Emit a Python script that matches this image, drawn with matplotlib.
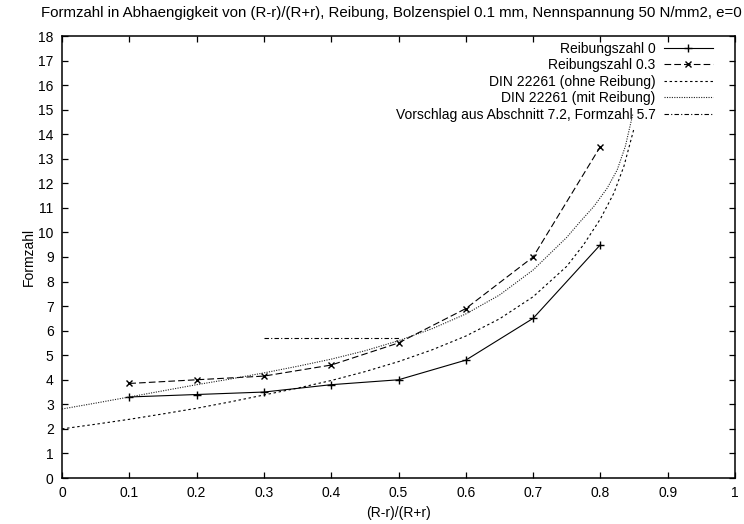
import matplotlib
matplotlib.use("Agg")
import matplotlib.pyplot as plt

plt.rcParams['font.family'] = ['Liberation Sans', 'DejaVu Sans']
plt.rcParams['font.size'] = 10

# Measured shape factors
x_mess = [0.1, 0.2, 0.3, 0.4, 0.5, 0.6, 0.7, 0.8]
formzahl_mu0 = [3.3, 3.4, 3.5, 3.8, 4.0, 4.8, 6.5, 9.5]
formzahl_mu03 = [3.85, 4.0, 4.15, 4.6, 5.5, 6.9, 9.0, 13.5]

# DIN 22261 reference curves
x_din_ohne = [0.0, 0.05, 0.1, 0.15, 0.2, 0.25, 0.3, 0.35, 0.4, 0.45, 0.5,
              0.55, 0.6, 0.65, 0.7, 0.75, 0.775, 0.8, 0.82, 0.835, 0.85]
din_ohne = [2.00, 2.19, 2.39, 2.61, 2.84, 3.10, 3.38, 3.66, 3.97, 4.33, 4.74,
            5.22, 5.78, 6.48, 7.38, 8.62, 9.50, 10.55, 11.60, 12.70, 14.24]
x_din_mit = [0.0, 0.05, 0.1, 0.15, 0.2, 0.25, 0.3, 0.35, 0.4, 0.45, 0.5,
             0.55, 0.6, 0.65, 0.7, 0.75, 0.77, 0.79, 0.81, 0.825, 0.837, 0.848]
din_mit = [2.81, 3.05, 3.30, 3.55, 3.80, 4.03, 4.28, 4.55, 4.84, 5.18, 5.59,
           6.08, 6.68, 7.45, 8.47, 9.80, 10.44, 11.05, 11.80, 12.55, 13.50, 14.80]

# Proposal from section 7.2
x_vorschlag = [0.3, 0.5]
formzahl_vorschlag = [5.7, 5.7]

x_ticks = [0, 0.1, 0.2, 0.3, 0.4, 0.5, 0.6, 0.7, 0.8, 0.9, 1]
x_ticklabels = ['0', '0.1', '0.2', '0.3', '0.4', '0.5', '0.6', '0.7', '0.8', '0.9', '1']
y_ticks = list(range(0, 19))

fig = plt.figure(figsize=(7.44, 5.24), dpi=100)
ax = fig.add_axes([62 / 744, 46 / 524, 673 / 744, 442 / 524])

lw = 0.8
ax.plot(x_mess, formzahl_mu0, color='black', lw=lw, marker='+', ms=6,
        mew=1.0, label='Reibungszahl 0')
ax.plot(x_mess, formzahl_mu03, color='black', lw=lw, marker='x', ms=5,
        mew=1.0, dashes=(6.0, 2.8), label='Reibungszahl 0.3')
ax.plot(x_din_ohne, din_ohne, color='black', lw=lw, dashes=(2.2, 2.4),
        label='DIN 22261 (ohne Reibung)')
ax.plot(x_din_mit, din_mit, color='#222222', lw=lw, dashes=(1.0, 1.2),
        label='DIN 22261 (mit Reibung)')
ax.plot(x_vorschlag, formzahl_vorschlag, color='black', lw=lw,
        dashes=(4.0, 2.0, 1.0, 2.0),
        label='Vorschlag aus Abschnitt 7.2, Formzahl 5.7')

ax.set_xlim(0, 1)
ax.set_ylim(0, 18)
ax.set_xticks(x_ticks)
ax.set_xticklabels(x_ticklabels)
ax.set_yticks(y_ticks)
ax.tick_params(direction='in', length=4.5, width=0.9, top=True, right=True,
               labelsize=10, pad=6)
for sp in ax.spines.values():
    sp.set_linewidth(1.1)

ax.set_xlabel('(R-r)/(R+r)', fontsize=10, labelpad=4)
ax.set_ylabel('Formzahl', fontsize=10, labelpad=2)
ax.set_title('Formzahl in Abhaengigkeit von (R-r)/(R+r), Reibung, Bolzenspiel 0.1 mm, '
             'Nennspannung 50 N/mm2, e=0', fontsize=10.8, pad=14, x=0.49)

leg = ax.legend(loc='upper right', bbox_to_anchor=(0.975, 1.0), frameon=False,
                markerfirst=False, handlelength=3.5, handletextpad=0.6,
                labelspacing=0.18, borderaxespad=0, fontsize=10)

fig.savefig('out.png', dpi=100)
